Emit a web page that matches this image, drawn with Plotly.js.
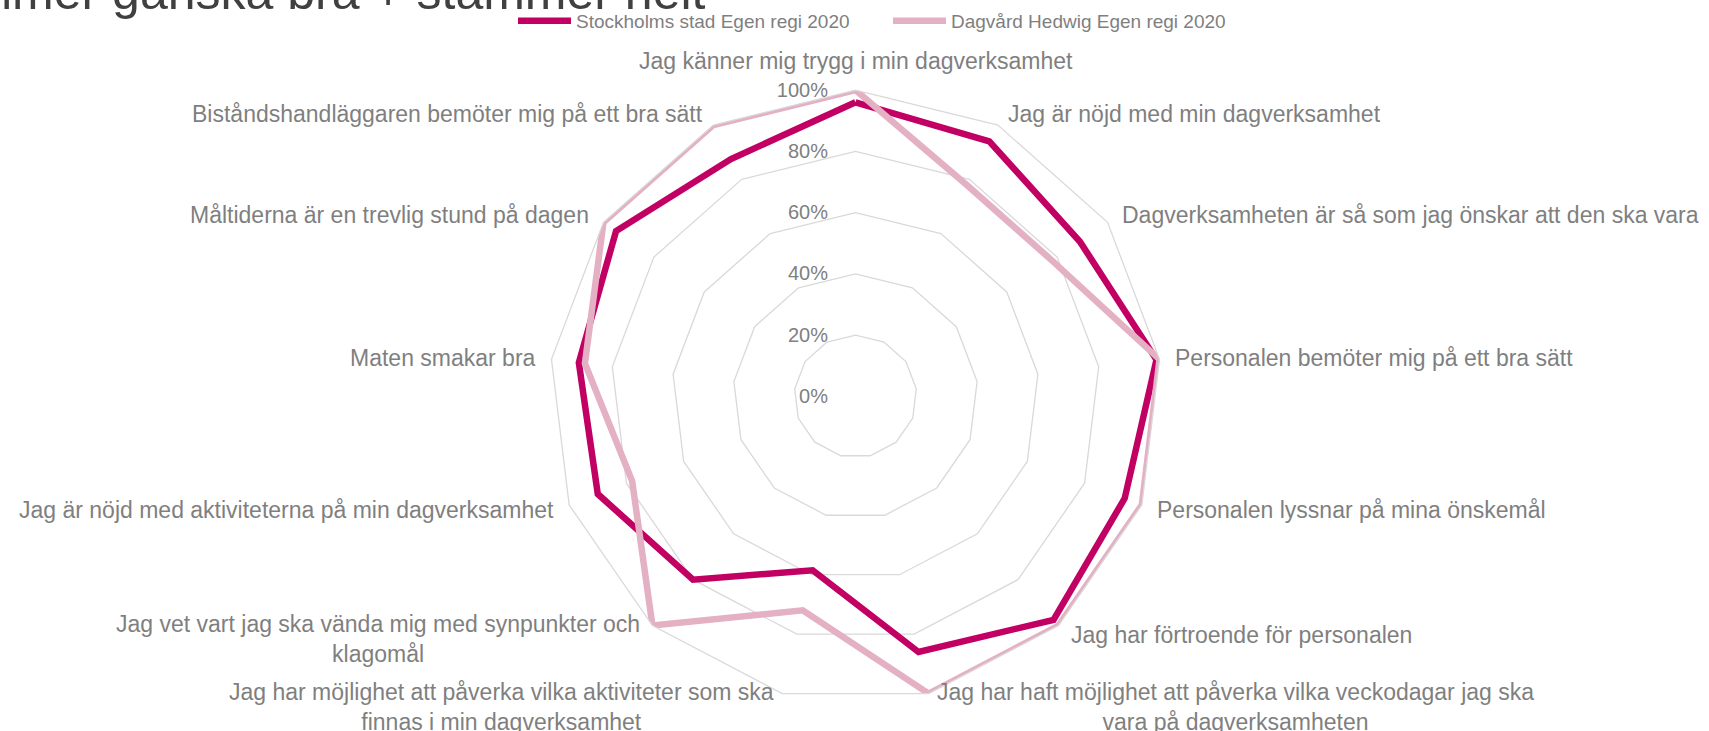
<!DOCTYPE html>
<html>
<head>
<meta charset="utf-8">
<script src="https://cdn.plot.ly/plotly-3.0.1.min.js"></script>
<style>
  html, body { margin: 0; padding: 0; background: #fff; }
  #graph { width: 1709px; height: 731px; }
</style>
</head>
<body>
<div id="graph"></div>
<script>
// categories, clockwise from the top
var categories = [
    "Jag känner mig trygg i min dagverksamhet",
    "Jag är nöjd med min dagverksamhet",
    "Dagverksamheten är så som jag önskar att den ska vara",
    "Personalen bemöter mig på ett bra sätt",
    "Personalen lyssnar på mina önskemål",
    "Jag har förtroende för personalen",
    "Jag har haft möjlighet att påverka vilka veckodagar jag ska<br>vara på dagverksamheten",
    "Jag har möjlighet att påverka vilka aktiviteter som ska<br>finnas i min dagverksamhet",
    "Jag vet vart jag ska vända mig med synpunkter och<br>klagomål",
    "Jag är nöjd med aktiviteterna på min dagverksamhet",
    "Maten smakar bra",
    "Måltiderna är en trevlig stund på dagen",
    "Biståndshandläggaren bemöter mig på ett bra sätt"
];

// share answering "stämmer ganska bra" + "stämmer helt"
var stockholm = [0.96, 0.94, 0.89, 0.99, 0.94, 0.975, 0.86, 0.585, 0.80, 0.90, 0.91, 0.95, 0.875];
var hedwig    = [1.00, 0.78, 0.78, 1.00, 1.00, 1.00, 1.00, 0.72, 1.00, 0.78, 0.89, 1.00, 1.00];

var seriesNames = ["Stockholms stad Egen regi 2020", "Dagvård Hedwig Egen regi 2020"];
var radialTicks = [0, 0.2, 0.4, 0.6, 0.8, 1.0];

function drawGraph() {
    var W = 1709, H = 731;
    // radar centre and outer radius in pixels
    var cx = 855.5, cy = 396.3, R = 306.25;
    var n = categories.length;
    var gray = "#7f7f7f";
    var font = "Liberation Sans, Arial, sans-serif";

    // close the loops
    var theta = categories.concat([categories[0]]);

    var traceStockholm = {
        type: "scatterpolar",
        mode: "lines",
        r: stockholm.concat([stockholm[0]]),
        theta: theta,
        name: seriesNames[0],
        line: {color: "#c20064", width: 6.5},
        hoverinfo: "skip"
    };
    var traceHedwig = {
        type: "scatterpolar",
        mode: "lines",
        r: hedwig.concat([hedwig[0]]),
        theta: theta,
        name: seriesNames[1],
        line: {color: "#e4b0c3", width: 6.5},
        hoverinfo: "skip"
    };

    // category labels placed just outside each spoke
    var annotations = [];
    for (var i = 0; i < n; i++) {
        var a = (90 - i * 360 / n) * Math.PI / 180;
        var c = Math.cos(a), s = Math.sin(a);
        var vx = cx + R * c, vy = cy - R * s;
        var multi = categories[i].indexOf("<br>") >= 0;
        var ann = {
            text: categories[i],
            xref: "paper", yref: "paper",
            showarrow: false,
            align: "center",
            font: {family: font, size: 23, color: gray}
        };
        if (Math.abs(c) < 0.1) {
            ann.x = vx / W;
            ann.xanchor = "center";
            ann.y = 1 - (vy - 14) / H;
            ann.yanchor = "bottom";
        } else {
            var gap = 4 + 10 * Math.abs(c);
            ann.x = (c > 0 ? vx + gap : vx - gap) / W;
            ann.xanchor = c > 0 ? "left" : "right";
            if (multi) {
                ann.y = 1 - (vy - 17) / H;
                ann.yanchor = "top";
            } else {
                ann.y = 1 - (vy - s * 13) / H;
                ann.yanchor = "middle";
            }
        }
        annotations.push(ann);
    }

    // the chart title, cut off at the top-left corner as in the original
    annotations.push({
        text: "Andel stämmer ganska bra + stämmer helt",
        xref: "paper", yref: "paper",
        x: 708 / W, xanchor: "right",
        y: 1 + 8 / H, yanchor: "middle",
        showarrow: false,
        font: {family: font, size: 50, color: "#404040"}
    });

    var layout = {
        width: W,
        height: H,
        margin: {l: 0, r: 0, t: 0, b: 0},
        paper_bgcolor: "#ffffff",
        font: {family: font, color: gray},
        showlegend: true,
        legend: {
            orientation: "h",
            x: 513 / W, xanchor: "left",
            y: 1 - 21 / H, yanchor: "middle",
            itemwidth: 53,
            entrywidth: 307,
            font: {family: font, size: 19, color: gray},
            bgcolor: "rgba(0,0,0,0)"
        },
        polar: {
            domain: {
                x: [(cx - R) / W, (cx + R) / W],
                y: [(H - cy - R) / H, (H - cy + R) / H]
            },
            bgcolor: "#ffffff",
            gridshape: "linear",
            radialaxis: {
                range: [0, 1],
                tickvals: radialTicks,
                tickformat: ".0%",
                angle: 90,
                side: "counterclockwise",
                tickangle: 90,
                showline: false,
                ticks: "outside",
                ticklen: 20,
                tickcolor: "rgba(0,0,0,0)",
                gridcolor: "#d9d9d9",
                gridwidth: 1.3,
                tickfont: {family: font, size: 20, color: gray}
            },
            angularaxis: {
                type: "category",
                categoryarray: categories,
                direction: "clockwise",
                rotation: 90,
                showgrid: false,
                showticklabels: false,
                ticks: "",
                showline: true,
                linecolor: "#d9d9d9",
                linewidth: 1.3
            }
        },
        annotations: annotations
    };

    Plotly.newPlot("graph", [traceStockholm, traceHedwig], layout, {staticPlot: true});
}

drawGraph();
</script>
</body>
</html>
